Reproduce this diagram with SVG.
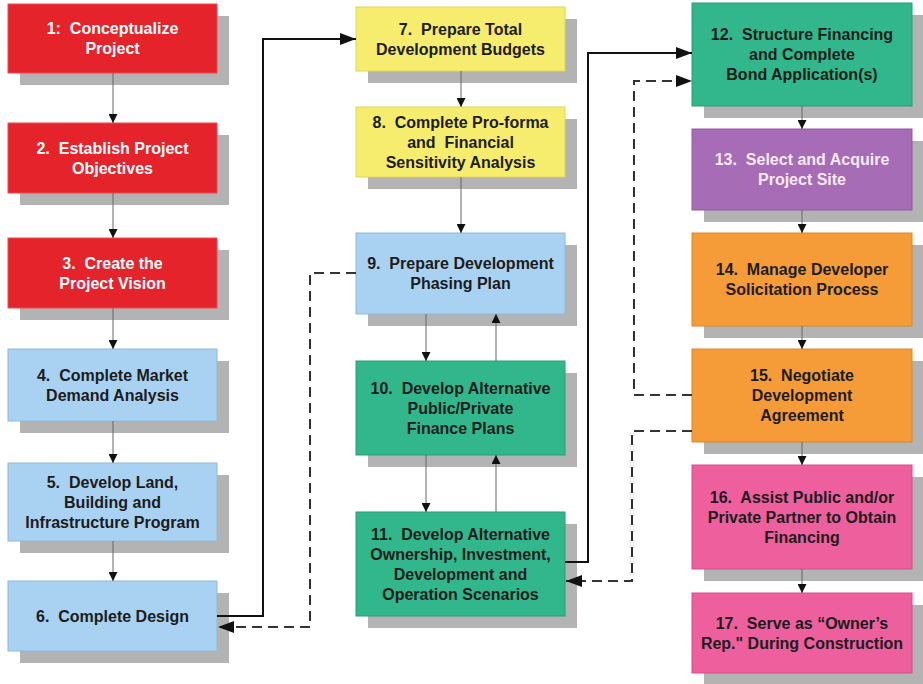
<svg xmlns="http://www.w3.org/2000/svg" width="923" height="684" viewBox="0 0 923 684">
<style>
.sh{fill:#b3b3b3}
.bx{stroke-width:1}
.red{fill:#e5232b;stroke:#f04a50}
.blue{fill:#a9d1f1;stroke:#8fb8da}
.yel{fill:#f6ed6e;stroke:#e0d65a}
.grn{fill:#31b78b;stroke:#289d76}
.pur{fill:#a66cb6;stroke:#925aa2}
.org{fill:#f59b37;stroke:#de8728}
.pnk{fill:#ee5f9e;stroke:#d94c89}
text{font-family:"Liberation Sans",Arial,sans-serif;font-weight:bold;font-size:16px;text-anchor:middle;white-space:pre}
.dk{fill:#1c1c1c}
.wt{fill:#ffffff}
.wp{fill:#f6e9f3}
.thin{stroke:#666;stroke-width:1;fill:none}
.solid{stroke:#111;stroke-width:2;fill:none}
.dash{stroke:#333;stroke-width:2;fill:none;stroke-dasharray:10 6}
</style>
<defs>
<marker id="sa" markerUnits="userSpaceOnUse" markerWidth="9" markerHeight="9" refX="9" refY="4.5" orient="auto"><path d="M0,0 L9,4.5 L0,9 z" fill="#111"/></marker>
<marker id="la" markerUnits="userSpaceOnUse" markerWidth="16" markerHeight="12" refX="16" refY="6" orient="auto"><path d="M0,0 L16,6 L0,12 z" fill="#111"/></marker>
</defs>
<rect width="923" height="684" fill="#ffffff"/>

<g id="n1"><rect class="sh" x="20" y="16" width="209" height="69"/><rect class="bx red" x="8" y="4" width="209" height="69"/><text class="wt" x="112.5" y="34">1:  Conceptualize</text><text class="wt" x="112.5" y="54">Project</text></g>
<g id="n2"><rect class="sh" x="20" y="135" width="209" height="70"/><rect class="bx red" x="8" y="123" width="209" height="70"/><text class="wt" x="112.5" y="153.5">2.  Establish Project</text><text class="wt" x="112.5" y="173.5">Objectives</text></g>
<g id="n3"><rect class="sh" x="20" y="250" width="209" height="70"/><rect class="bx red" x="8" y="238" width="209" height="70"/><text class="wt" x="112.5" y="268.5">3.  Create the</text><text class="wt" x="112.5" y="288.5">Project Vision</text></g>
<g id="n4"><rect class="sh" x="20" y="361" width="209" height="72"/><rect class="bx blue" x="8" y="349" width="209" height="72"/><text class="dk" x="112.5" y="380.5">4.  Complete Market</text><text class="dk" x="112.5" y="400.5">Demand Analysis</text></g>
<g id="n5"><rect class="sh" x="20" y="475" width="209" height="78"/><rect class="bx blue" x="8" y="463" width="209" height="78"/><text class="dk" x="112.5" y="487.5">5.  Develop Land,</text><text class="dk" x="112.5" y="507.5">Building and</text><text class="dk" x="112.5" y="527.5">Infrastructure Program</text></g>
<g id="n6"><rect class="sh" x="20" y="593" width="209" height="70"/><rect class="bx blue" x="8" y="581" width="209" height="70"/><text class="dk" x="112.5" y="621.5">6.  Complete Design</text></g>

<g id="n7"><rect class="sh" x="368" y="19" width="209" height="64"/><rect class="bx yel" x="356" y="7" width="209" height="64"/><text class="dk" x="460.5" y="34.5">7.  Prepare Total</text><text class="dk" x="460.5" y="54.5">Development Budgets</text></g>
<g id="n8"><rect class="sh" x="368" y="119" width="209" height="70"/><rect class="bx yel" x="356" y="107" width="209" height="70"/><text class="dk" x="460.5" y="127.5">8.  Complete Pro-forma</text><text class="dk" x="460.5" y="147.5">and  Financial</text><text class="dk" x="460.5" y="167.5">Sensitivity Analysis</text></g>
<g id="n9"><rect class="sh" x="368" y="245" width="209" height="81"/><rect class="bx blue" x="356" y="233" width="209" height="81"/><text class="dk" x="460.5" y="269">9.  Prepare Development</text><text class="dk" x="460.5" y="289">Phasing Plan</text></g>
<g id="n10"><rect class="sh" x="368" y="373" width="209" height="94"/><rect class="bx grn" x="356" y="361" width="209" height="94"/><text class="dk" x="460.5" y="393.5">10.  Develop Alternative</text><text class="dk" x="460.5" y="413.5">Public/Private</text><text class="dk" x="460.5" y="433.5">Finance Plans</text></g>
<g id="n11"><rect class="sh" x="368" y="524" width="209" height="104"/><rect class="bx grn" x="356" y="512" width="209" height="104"/><text class="dk" x="460.5" y="539.5">11.  Develop Alternative</text><text class="dk" x="460.5" y="559.5">Ownership, Investment,</text><text class="dk" x="460.5" y="579.5">Development and</text><text class="dk" x="460.5" y="599.5">Operation Scenarios</text></g>

<g id="n12"><rect class="sh" x="704" y="15" width="220" height="103"/><rect class="bx grn" x="692" y="3" width="220" height="103"/><text class="dk" x="802" y="40">12.  Structure Financing</text><text class="dk" x="802" y="60">and Complete</text><text class="dk" x="802" y="80">Bond Application(s)</text></g>
<g id="n13"><rect class="sh" x="704" y="141" width="220" height="81"/><rect class="bx pur" x="692" y="129" width="220" height="81"/><text class="wp" x="802" y="165">13.  Select and Acquire</text><text class="wp" x="802" y="185">Project Site</text></g>
<g id="n14"><rect class="sh" x="704" y="245" width="220" height="93"/><rect class="bx org" x="692" y="233" width="220" height="93"/><text class="dk" x="802" y="275">14.  Manage Developer</text><text class="dk" x="802" y="295">Solicitation Process</text></g>
<g id="n15"><rect class="sh" x="704" y="361" width="220" height="93"/><rect class="bx org" x="692" y="349" width="220" height="93"/><text class="dk" x="802" y="381">15.  Negotiate</text><text class="dk" x="802" y="401">Development</text><text class="dk" x="802" y="421">Agreement</text></g>
<g id="n16"><rect class="sh" x="704" y="477" width="220" height="104"/><rect class="bx pnk" x="692" y="465" width="220" height="104"/><text class="dk" x="802" y="502.5">16.  Assist Public and/or</text><text class="dk" x="802" y="522.5">Private Partner to Obtain</text><text class="dk" x="802" y="542.5">Financing</text></g>
<g id="n17"><rect class="sh" x="704" y="605" width="220" height="80"/><rect class="bx pnk" x="692" y="593" width="220" height="80"/><text class="dk" x="802" y="628.5">17.  Serve as “Owner’s</text><text class="dk" x="802" y="648.5">Rep." During Construction</text></g>

<g id="connectors">
<path class="thin" marker-end="url(#sa)" d="M113,73 V123"/>
<path class="thin" marker-end="url(#sa)" d="M113,193 V238"/>
<path class="thin" marker-end="url(#sa)" d="M113,308 V349"/>
<path class="thin" marker-end="url(#sa)" d="M113,421 V463"/>
<path class="thin" marker-end="url(#sa)" d="M113,541 V581"/>
<path class="thin" marker-end="url(#sa)" d="M461,71 V107"/>
<path class="thin" marker-end="url(#sa)" d="M461,177 V233"/>
<path class="thin" marker-end="url(#sa)" d="M426,314 V361"/>
<path class="thin" marker-end="url(#sa)" d="M496,361 V314"/>
<path class="thin" marker-end="url(#sa)" d="M426,455 V512"/>
<path class="thin" marker-end="url(#sa)" d="M496,512 V455"/>
<path class="thin" marker-end="url(#sa)" d="M802,106 V129"/>
<path class="thin" marker-end="url(#sa)" d="M802,210 V233"/>
<path class="thin" marker-end="url(#sa)" d="M802,326 V349"/>
<path class="thin" marker-end="url(#sa)" d="M802,442 V465"/>
<path class="thin" marker-end="url(#sa)" d="M802,569 V593"/>
<path class="solid" marker-end="url(#la)" d="M217,616 H263 V39 H356"/>
<path class="dash" marker-end="url(#la)" d="M356,273 H310 V627 H218"/>
<path class="solid" marker-end="url(#la)" d="M565,562 H588 V53 H692"/>
<path class="dash" marker-end="url(#la)" d="M692,395 H634 V81 H692"/>
<path class="dash" marker-end="url(#la)" d="M692,431 H632 V581 H566"/>
</g>
</svg>
